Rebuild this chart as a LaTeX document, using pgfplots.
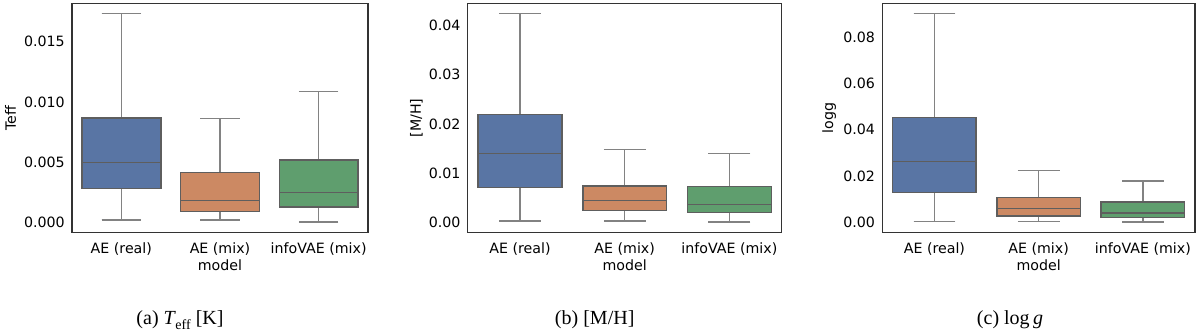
\documentclass[border=0pt]{standalone}
\usepackage{pgfplots}
\pgfplotsset{compat=1.18}
\usepgfplotslibrary{statistics}
\usepackage{fontspec}
\setmainfont{DejaVu Sans}
\newfontfamily\capfont{Liberation Serif}
\definecolor{cblue}{HTML}{5975A4}
\definecolor{corange}{HTML}{CC8963}
\definecolor{cgreen}{HTML}{5F9E6E}
\definecolor{edge}{HTML}{5E5E5E}
\definecolor{whisk}{HTML}{828282}
\definecolor{axcol}{HTML}{333333}
\tikzset{ylab/.style={rotate=90, anchor=base, font=\fontsize{14.2}{14.2}\selectfont, inner sep=0pt}}
% all y values below are given in units of 1e-3
\pgfplotsset{
  panel/.style={
    anchor=south west, scale only axis,
    height=229.2pt,
    xmin=-0.5, xmax=2.5,
    xtick={0,1,2},
    xticklabels={AE (real),AE (mix),infoVAE (mix)},
    major tick length=0pt, minor tick num=0,
    scaled y ticks=false,
    axis line style={draw=axcol, line width=1.3pt},
    tick label style={font=\fontsize{14.2}{14.2}\selectfont},
    label style={font=\fontsize{14.2}{14.2}\selectfont},
    yticklabel style={anchor=east, xshift=-3.8pt},
    xticklabel style={anchor=base, yshift=-20.8pt},
    xlabel={model},
    xlabel style={at={(axis description cs:0.5,0)}, anchor=base, yshift=-38.5pt},
    clip=false,
  },
  bp/.style={line width=1.4pt, draw=edge,
    boxplot/draw direction=y,
    boxplot/box extend=0.8, boxplot/whisker extend=0.4,
    boxplot/every whisker/.style={draw=whisk, line width=1.3pt},
    boxplot/every median/.style={draw=edge, line width=1.4pt}},
}
\begin{document}
\begin{tikzpicture}
\path[use as bounding box] (0pt,0pt) rectangle (1200pt,331pt);
% (a) Teff
\begin{axis}[panel, at={(72pt,98.5pt)}, width=296pt,
  ymin=-0.87, ymax=18.2,
  ytick={0,5,10,15}, yticklabels={0.000,0.005,0.010,0.015}]
\addplot[bp, fill=cblue, boxplot prepared={draw position=0, lower whisker=0.17, lower quartile=2.81, median=4.94, upper quartile=8.64, upper whisker=17.33}] coordinates {};
\addplot[bp, fill=corange, boxplot prepared={draw position=1, lower whisker=0.17, lower quartile=0.86, median=1.78, upper quartile=4.11, upper whisker=8.64}] coordinates {};
\addplot[bp, fill=cgreen, boxplot prepared={draw position=2, lower whisker=0.00, lower quartile=1.25, median=2.47, upper quartile=5.17, upper whisker=10.89}] coordinates {};
\node[ylab] at ([xshift=-56pt]rel axis cs:0,0.5) {Teff};
\end{axis}
% (b) [M/H]
\begin{axis}[panel, at={(467.7pt,98.5pt)}, width=314pt,
  ymin=-2.12, ymax=44.54,
  ytick={0,10,20,30,40}, yticklabels={0.00,0.01,0.02,0.03,0.04}]
\addplot[bp, fill=cblue, boxplot prepared={draw position=0, lower whisker=0.2, lower quartile=7.05, median=13.96, upper quartile=21.95, upper whisker=42.42}] coordinates {};
\addplot[bp, fill=corange, boxplot prepared={draw position=1, lower whisker=0.2, lower quartile=2.32, median=4.35, upper quartile=7.32, upper whisker=14.84}] coordinates {};
\addplot[bp, fill=cgreen, boxplot prepared={draw position=2, lower whisker=0.0, lower quartile=1.97, median=3.54, upper quartile=7.2, upper whisker=13.96}] coordinates {};
\node[ylab] at ([xshift=-46.8pt]rel axis cs:0,0.5) {[M/H]};
\end{axis}
% (c) logg
\begin{axis}[panel, at={(882.3pt,98.5pt)}, width=312.7pt,
  ymin=-4.5, ymax=94.6,
  ytick={0,20,40,60,80}, yticklabels={0.00,0.02,0.04,0.06,0.08}]
\addplot[bp, fill=cblue, boxplot prepared={draw position=0, lower whisker=0.4, lower quartile=12.8, median=26.2, upper quartile=45.1, upper whisker=90.1}] coordinates {};
\addplot[bp, fill=corange, boxplot prepared={draw position=1, lower whisker=0.3, lower quartile=2.7, median=5.9, upper quartile=10.65, upper whisker=22.4}] coordinates {};
\addplot[bp, fill=cgreen, boxplot prepared={draw position=2, lower whisker=0.0, lower quartile=1.9, median=3.9, upper quartile=8.6, upper whisker=17.8}] coordinates {};
\node[ylab] at ([xshift=-49.1pt]rel axis cs:0,0.5) {logg};
\end{axis}
% captions
\node[anchor=base, font=\capfont\fontsize{20}{20}\selectfont, inner sep=0pt] at (180pt,6.2pt)
  {(a) \textit{T}\kern-0.5pt\raisebox{-0.22em}{\fontsize{14}{14}\selectfont eff} [K]};
\node[anchor=base, font=\capfont\fontsize{20}{20}\selectfont, inner sep=0pt] at (594.7pt,6.2pt)
  {(b) [M/H]};
\node[anchor=base, font=\capfont\fontsize{20}{20}\selectfont, inner sep=0pt] at (1010pt,6.2pt)
  {(c) log\,\textit{g}};
\end{tikzpicture}
\end{document}
